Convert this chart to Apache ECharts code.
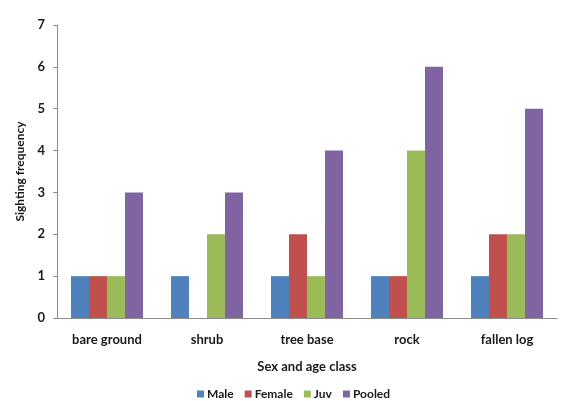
<!DOCTYPE html>
<html>
<head>
<meta charset="utf-8">
<script src="https://cdn.jsdelivr.net/npm/echarts@6/dist/echarts.min.js"></script>
<style>
  html, body { margin: 0; padding: 0; background: #fff; }
  #chart { width: 565px; height: 401px; }
</style>
</head>
<body>
<div id="chart"></div>
<script>
const categories = ['bare ground', 'shrub', 'tree base', 'rock', 'fallen log'];
const male   = [1, 1, 1, 1, 1];
const female = [1, 0, 2, 1, 2];
const juv    = [1, 2, 1, 4, 2];
const pooled = [3, 3, 4, 6, 5];
const yTicks = [0, 1, 2, 3, 4, 5, 6, 7];

const font = 'Lato, "Open Sans", "Liberation Sans", sans-serif';
const colors = ['#4F81BD', '#C0504D', '#9BBB59', '#8064A2'];
const ink = '#1a1a1a';

const chart = echarts.init(document.getElementById('chart'));
const mk = (name, data) => ({
  name, type: 'bar', data,
  barGap: '0%', barCategoryGap: '28%',
  itemStyle: { borderWidth: 0 }
});
chart.setOption({
  animation: false,
  color: colors,
  textStyle: { fontFamily: font },
  grid: { left: 57, right: 8, top: 25, bottom: 83, containLabel: false },
  xAxis: {
    type: 'category', data: categories,
    axisLine: { lineStyle: { color: '#8c8c8c' } },
    axisTick: { show: false },
    axisLabel: { color: ink, fontSize: 13, fontWeight: 'bold', margin: 15, fontFamily: font },
    name: 'Sex and age class', nameLocation: 'middle', nameGap: 42,
    nameTextStyle: { color: ink, fontSize: 13, fontWeight: 'bold', fontFamily: font }
  },
  yAxis: {
    type: 'value', min: yTicks[0], max: yTicks[yTicks.length - 1], interval: 1,
    axisLine: { show: true, lineStyle: { color: '#8c8c8c' } },
    axisTick: { show: true, length: 4, lineStyle: { color: '#8c8c8c' } },
    splitLine: { show: false },
    axisLabel: { color: ink, fontSize: 13, fontWeight: 'bold', margin: 12, fontFamily: font },
    name: 'Sighting frequency', nameLocation: 'middle', nameGap: 28,
    nameTextStyle: { color: ink, fontSize: 12, fontWeight: 'bold', fontFamily: font }
  },
  legend: {
    top: 383, left: 192, padding: 5, itemWidth: 7, itemHeight: 7, itemGap: 11,
    icon: 'rect',
    textStyle: { color: ink, fontSize: 12, fontWeight: 'bold', fontFamily: font, padding: [0, 0, 0, -2] },
    data: ['Male', 'Female', 'Juv', 'Pooled']
  },
  series: [mk('Male', male), mk('Female', female), mk('Juv', juv), mk('Pooled', pooled)]
});
</script>
</body>
</html>
